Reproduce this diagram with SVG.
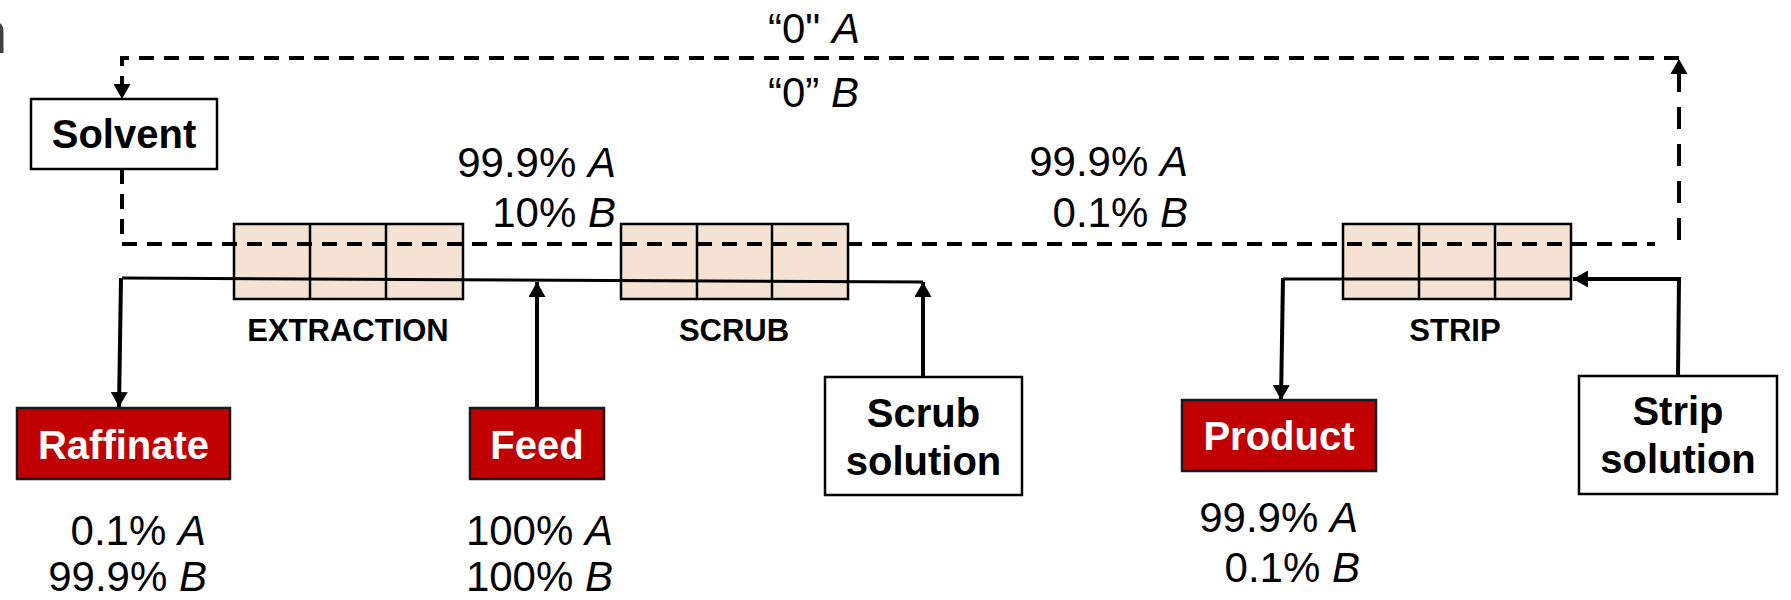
<svg xmlns="http://www.w3.org/2000/svg" width="1791" height="600" viewBox="0 0 1791 600">
<style>
text{font-family:"Liberation Sans",Arial,sans-serif;fill:#000}
.lbl{font-size:42px}
.i{font-style:italic}
.bold{font-size:40px;font-weight:bold;text-anchor:middle}
.stage{font-size:31px;font-weight:bold;text-anchor:middle}
.wbox{fill:#fff;stroke:#000;stroke-width:2.5}
.rbox{fill:#C00000;stroke:#1a1a1a;stroke-width:2.5}
.rtxt{fill:#fff}
.cell{fill:#F4E3D2;stroke:#000;stroke-width:2.5}
.dash{fill:none;stroke:#000;stroke-width:4;stroke-dasharray:15 10}
.dashv{fill:none;stroke:#000;stroke-width:4;stroke-dasharray:22 15}
.solid{fill:none;stroke:#000;stroke-width:3}
.flow{fill:none;stroke:#000;stroke-width:4}
</style>
<defs>
<marker id="arr" viewBox="0 0 15 17" refX="15" refY="8.5" markerWidth="15" markerHeight="17" markerUnits="userSpaceOnUse" orient="auto">
<path d="M0,0 L15,8.5 L0,17 z" fill="#000"/>
</marker>
</defs>

<text x="-26" y="53" font-size="60" style="fill:#404040">n</text>

<g id="extraction">
<rect class="cell" x="234" y="224" width="229" height="75"/>
<line class="cell" x1="310" y1="224" x2="310" y2="299"/>
<line class="cell" x1="386" y1="224" x2="386" y2="299"/>
<text class="stage" x="348" y="341">EXTRACTION</text>
</g>
<g id="scrub">
<rect class="cell" x="621" y="224" width="227" height="75"/>
<line class="cell" x1="697" y1="224" x2="697" y2="299"/>
<line class="cell" x1="772" y1="224" x2="772" y2="299"/>
<text class="stage" x="734" y="341">SCRUB</text>
</g>
<g id="strip">
<rect class="cell" x="1343" y="224" width="228" height="75"/>
<line class="cell" x1="1419" y1="224" x2="1419" y2="299"/>
<line class="cell" x1="1495" y1="224" x2="1495" y2="299"/>
<text class="stage" x="1455" y="341">STRIP</text>
</g>

<g id="connectors">
<path class="dash" d="M122,169 V244 H1655"/>
<path class="dashv" d="M1679,240 V59" marker-end="url(#arr)"/>
<path class="dash" d="M1679,58 H122 V99" marker-end="url(#arr)"/>
<path class="solid" d="M923,282 L122,278"/>
<path class="flow" d="M121,278 L119,407" marker-end="url(#arr)"/>
<path class="flow" d="M537,408 V282" marker-end="url(#arr)"/>
<path class="flow" d="M923,377 V282" marker-end="url(#arr)"/>
<path class="solid" d="M1571,279 H1283"/>
<path class="flow" d="M1283,278 L1281,400" marker-end="url(#arr)"/>
<path class="flow" d="M1678,376 L1679,279 H1573" marker-end="url(#arr)"/>
</g>

<g id="solvent">
<rect class="wbox" x="31" y="99" width="186" height="70"/>
<text class="bold" x="124" y="148">Solvent</text>
</g>
<g id="raffinate">
<rect class="rbox" x="17" y="408" width="213" height="71"/>
<text class="bold rtxt" x="123.5" y="459">Raffinate</text>
</g>
<g id="feed">
<rect class="rbox" x="470" y="408" width="134" height="71"/>
<text class="bold rtxt" x="537" y="459">Feed</text>
</g>
<g id="scrub-solution">
<rect class="wbox" x="825" y="377" width="197" height="118"/>
<text class="bold" x="923.5" y="427">Scrub</text>
<text class="bold" x="923.5" y="475">solution</text>
</g>
<g id="product">
<rect class="rbox" x="1182" y="400" width="194" height="71"/>
<text class="bold rtxt" x="1279" y="450">Product</text>
</g>
<g id="strip-solution">
<rect class="wbox" x="1579" y="376" width="198" height="118"/>
<text class="bold" x="1678" y="425">Strip</text>
<text class="bold" x="1678" y="473">solution</text>
</g>

<g id="labels">
<text class="lbl" x="768" y="43">“0" <tspan class="i">A</tspan></text>
<text class="lbl" x="768" y="107">“0” <tspan class="i">B</tspan></text>
<text class="lbl" x="616" y="177" text-anchor="end">99.9% <tspan class="i">A</tspan></text>
<text class="lbl" x="616" y="227" text-anchor="end">10% <tspan class="i">B</tspan></text>
<text class="lbl" x="1188" y="176" text-anchor="end">99.9% <tspan class="i">A</tspan></text>
<text class="lbl" x="1188" y="227" text-anchor="end">0.1% <tspan class="i">B</tspan></text>
<text class="lbl" x="206" y="545" text-anchor="end">0.1% <tspan class="i">A</tspan></text>
<text class="lbl" x="207" y="591" text-anchor="end">99.9% <tspan class="i">B</tspan></text>
<text class="lbl" x="613" y="545" text-anchor="end">100% <tspan class="i">A</tspan></text>
<text class="lbl" x="613" y="591" text-anchor="end">100% <tspan class="i">B</tspan></text>
<text class="lbl" x="1358" y="532" text-anchor="end">99.9% <tspan class="i">A</tspan></text>
<text class="lbl" x="1360" y="582" text-anchor="end">0.1% <tspan class="i">B</tspan></text>
</g>
</svg>
